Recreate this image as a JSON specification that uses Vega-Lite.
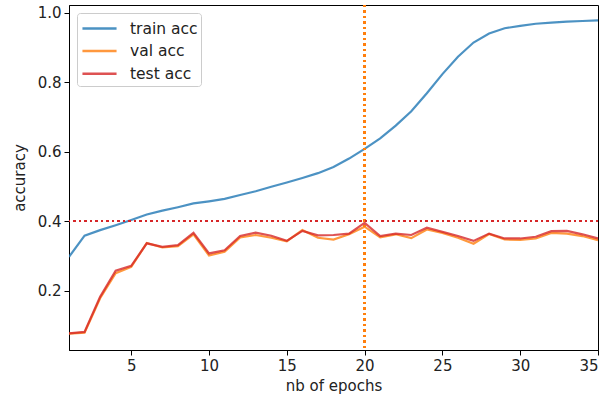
{
  "$schema": "https://vega.github.io/schema/vega-lite/v6.json",
  "autosize": "none",
  "width": 529,
  "height": 345,
  "padding": {"left": 69, "top": 5, "right": 8, "bottom": 53},
  "background": "white",
  "config": {
    "font": "DejaVu Sans",
    "view": {"stroke": "black", "strokeWidth": 1},
    "axis": {
      "grid": false,
      "domainColor": "black",
      "tickColor": "black",
      "tickSize": 5,
      "tickWidth": 1,
      "labelFontSize": 15,
      "labelColor": "#222",
      "labelFont": "DejaVu Sans",
      "titleFont": "DejaVu Sans",
      "titleFontSize": 15,
      "titleFontWeight": "normal",
      "titleColor": "#222",
      "labelPadding": 3
    },
    "legend": {
      "orient": "top-left",
      "offset": 8,
      "fillColor": "white",
      "strokeColor": "#cccccc",
      "cornerRadius": 3,
      "padding": 3,
      "rowPadding": 1.6,
      "symbolType": "M-1.55,0H1.55",
      "symbolSize": 484,
      "symbolOffset": 7,
      "symbolStrokeWidth": 2.5,
      "symbolOpacity": 0.8,
      "labelFontSize": 15.5,
      "labelFont": "DejaVu Sans",
      "labelColor": "#222",
      "labelOffset": 18
    }
  },
  "data": {
    "values": [
      {"epoch": 1, "train acc": 0.297, "val acc": 0.076, "test acc": 0.077},
      {"epoch": 2, "train acc": 0.358, "val acc": 0.079, "test acc": 0.081},
      {"epoch": 3, "train acc": 0.374, "val acc": 0.178, "test acc": 0.182},
      {"epoch": 4, "train acc": 0.388, "val acc": 0.25, "test acc": 0.257},
      {"epoch": 5, "train acc": 0.403, "val acc": 0.268, "test acc": 0.271},
      {"epoch": 6, "train acc": 0.419, "val acc": 0.337, "test acc": 0.336},
      {"epoch": 7, "train acc": 0.43, "val acc": 0.324, "test acc": 0.326},
      {"epoch": 8, "train acc": 0.44, "val acc": 0.328, "test acc": 0.331},
      {"epoch": 9, "train acc": 0.451, "val acc": 0.362, "test acc": 0.366},
      {"epoch": 10, "train acc": 0.457, "val acc": 0.301, "test acc": 0.307},
      {"epoch": 11, "train acc": 0.464, "val acc": 0.312, "test acc": 0.316},
      {"epoch": 12, "train acc": 0.475, "val acc": 0.353, "test acc": 0.357},
      {"epoch": 13, "train acc": 0.486, "val acc": 0.36, "test acc": 0.367},
      {"epoch": 14, "train acc": 0.499, "val acc": 0.352, "test acc": 0.358},
      {"epoch": 15, "train acc": 0.511, "val acc": 0.342, "test acc": 0.343},
      {"epoch": 16, "train acc": 0.524, "val acc": 0.374, "test acc": 0.372},
      {"epoch": 17, "train acc": 0.538, "val acc": 0.352, "test acc": 0.359},
      {"epoch": 18, "train acc": 0.556, "val acc": 0.347, "test acc": 0.36},
      {"epoch": 19, "train acc": 0.58, "val acc": 0.362, "test acc": 0.364},
      {"epoch": 20, "train acc": 0.608, "val acc": 0.384, "test acc": 0.395},
      {"epoch": 21, "train acc": 0.638, "val acc": 0.353, "test acc": 0.357},
      {"epoch": 22, "train acc": 0.675, "val acc": 0.362, "test acc": 0.364},
      {"epoch": 23, "train acc": 0.716, "val acc": 0.351, "test acc": 0.36},
      {"epoch": 24, "train acc": 0.768, "val acc": 0.376, "test acc": 0.381},
      {"epoch": 25, "train acc": 0.823, "val acc": 0.366, "test acc": 0.369},
      {"epoch": 26, "train acc": 0.873, "val acc": 0.352, "test acc": 0.357},
      {"epoch": 27, "train acc": 0.914, "val acc": 0.335, "test acc": 0.343},
      {"epoch": 28, "train acc": 0.94, "val acc": 0.363, "test acc": 0.364},
      {"epoch": 29, "train acc": 0.955, "val acc": 0.347, "test acc": 0.35},
      {"epoch": 30, "train acc": 0.962, "val acc": 0.346, "test acc": 0.35},
      {"epoch": 31, "train acc": 0.968, "val acc": 0.35, "test acc": 0.355},
      {"epoch": 32, "train acc": 0.971, "val acc": 0.366, "test acc": 0.371},
      {"epoch": 33, "train acc": 0.974, "val acc": 0.364, "test acc": 0.372},
      {"epoch": 34, "train acc": 0.976, "val acc": 0.357, "test acc": 0.362},
      {"epoch": 35, "train acc": 0.978, "val acc": 0.345, "test acc": 0.35}
    ]
  },
  "layer": [
    {
      "transform": [{"fold": ["train acc", "val acc", "test acc"], "as": ["series", "acc"]}],
      "mark": {"type": "line", "strokeWidth": 2.2, "opacity": 0.8, "clip": true},
      "encoding": {
        "x": {
          "field": "epoch",
          "type": "quantitative",
          "scale": {"domain": [1, 35], "nice": false, "zero": false},
          "axis": {"values": [5, 10, 15, 20, 25, 30, 35], "title": "nb of epochs", "titlePadding": 5}
        },
        "y": {
          "field": "acc",
          "type": "quantitative",
          "scale": {"domain": [0.029, 1.022], "nice": false, "zero": false},
          "axis": {"values": [0.2, 0.4, 0.6, 0.8, 1.0], "format": ".1f", "title": "accuracy", "titlePadding": 10}
        },
        "color": {
          "field": "series",
          "type": "nominal",
          "sort": ["train acc", "val acc", "test acc"],
          "scale": {"domain": ["train acc", "val acc", "test acc"], "range": ["#1f77b4", "#ff7f0e", "#d62728"]},
          "legend": {"title": null}
        },
        "order": {"field": "epoch"}
      }
    },
    {
      "mark": {"type": "rule", "color": "#ff7f0e", "opacity": 0.8, "strokeWidth": 2, "strokeDash": [2, 3.5]},
      "encoding": {"x": {"datum": 20}}
    },
    {
      "mark": {"type": "rule", "color": "#d62728", "opacity": 0.8, "strokeWidth": 2, "strokeDash": [2, 3.5]},
      "encoding": {"y": {"datum": 0.4}}
    }
  ]
}
